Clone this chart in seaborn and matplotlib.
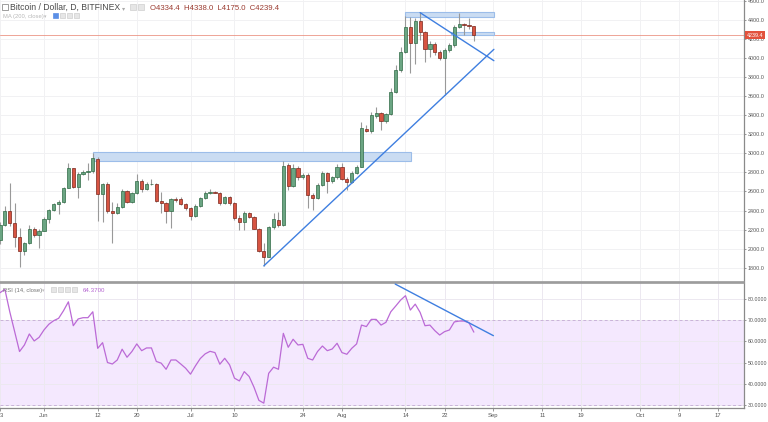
import numpy as np
import pandas as pd
import matplotlib
matplotlib.use("Agg")
import matplotlib.pyplot as plt
import matplotlib.dates as mdates
import matplotlib.transforms as mtrans
from matplotlib.patches import Rectangle
import seaborn as sns

# ---------------- data (daily BTC/USD, Bitfinex, from 2017-05-23) ----------------
start_date = "2017-05-23"
opens = [2092, 2249, 2396, 2267, 2127, 1980, 2057, 2204, 2144, 2190,
         2309, 2407, 2466, 2494, 2634, 2844, 2651, 2784, 2809, 2812,
         2938, 2571, 2679, 2396, 2379, 2435, 2610, 2494, 2581, 2714,
         2623, 2676, 2676, 2505, 2484, 2396, 2519, 2519, 2470, 2424,
         2347, 2449, 2529, 2581, 2599, 2588, 2477, 2540, 2477, 2319,
         2284, 2372, 2330, 2204, 1980, 1917, 2225, 2302, 2249, 2879,
         2658, 2844, 2749, 2774, 2564, 2529, 2669, 2791, 2714, 2749,
         2854, 2728, 2704, 2791, 2861, 3256, 3235, 3396, 3420, 3344,
         3410, 3648, 3875, 4068, 4330, 4155, 4393, 4270, 4092, 4148,
         4068, 3998, 4085, 4138, 4330, 4358, 4348, 4334.4]
highs = [2280, 2449, 2693, 2484, 2214, 2074, 2249, 2225, 2204, 2330,
         2414, 2484, 2512, 2651, 2903, 2851, 2809, 2826, 2896, 3008,
         2966, 2693, 2704, 2494, 2477, 2623, 2617, 2599, 2784, 2728,
         2704, 2728, 2693, 2599, 2494, 2529, 2547, 2540, 2484, 2442,
         2470, 2547, 2610, 2623, 2610, 2599, 2554, 2554, 2494, 2354,
         2400, 2389, 2344, 2214, 2057, 2239, 2379, 2389, 2924, 2903,
         2889, 2868, 2798, 2791, 2581, 2686, 2819, 2809, 2763, 2889,
         2903, 2749, 2819, 2879, 3333, 3298, 3438, 3484, 3438, 3421,
         3683, 3928, 4120, 4442, 4435, 4417, 4487, 4288, 4183, 4172,
         4085, 4103, 4162, 4347, 4470, 4372, 4417, 4338.0]
lows = [2050, 2240, 2240, 2015, 1812, 1935, 2050, 2127, 2004, 2190,
        2274, 2400, 2365, 2484, 2634, 2634, 2529, 2777, 2721, 2791,
        2291, 2284, 2379, 2057, 2365, 2424, 2477, 2484, 2575, 2599,
        2617, 2665, 2494, 2372, 2267, 2214, 2494, 2459, 2407, 2302,
        2337, 2442, 2519, 2575, 2581, 2459, 2470, 2459, 2302, 2197,
        2197, 2319, 2204, 1970, 1819, 1910, 2204, 2225, 2239, 2617,
        2651, 2721, 2728, 2424, 2407, 2519, 2658, 2588, 2693, 2728,
        2721, 2617, 2693, 2784, 2854, 3228, 3218, 3368, 3246, 3316,
        3403, 3631, 3858, 4050, 3847, 3938, 4190, 3963, 4015, 4033,
        3980, 3613, 4068, 4120, 4313, 4243, 4302, 4175.0]
closes = [2249, 2400, 2267, 2127, 1980, 2057, 2204, 2144, 2190, 2309,
          2407, 2466, 2494, 2634, 2844, 2651, 2784, 2809, 2812, 2949,
          2571, 2679, 2396, 2379, 2435, 2610, 2494, 2581, 2714, 2623,
          2676, 2680, 2505, 2484, 2396, 2519, 2515, 2470, 2424, 2347,
          2449, 2529, 2581, 2599, 2588, 2477, 2540, 2477, 2319, 2284,
          2372, 2330, 2204, 1980, 1917, 2225, 2309, 2249, 2868, 2658,
          2844, 2749, 2774, 2564, 2529, 2669, 2791, 2714, 2749, 2854,
          2728, 2704, 2791, 2861, 3263, 3235, 3403, 3420, 3344, 3410,
          3648, 3875, 4068, 4330, 4155, 4393, 4270, 4092, 4148, 4068,
          3998, 4085, 4138, 4330, 4358, 4348, 4340, 4239.4]
rsi = [83.0, 84.6, 74.0, 64.6, 55.2, 58.3, 63.5, 60.2, 61.9, 65.4,
       68.1, 69.8, 70.9, 74.5, 78.7, 67.4, 70.6, 71.2, 71.2, 74.0,
       56.7, 59.4, 50.0, 49.3, 51.2, 56.3, 52.5, 55.2, 58.8, 55.6,
       56.9, 56.9, 50.5, 49.7, 46.8, 51.2, 51.2, 49.3, 47.3, 44.5,
       48.4, 51.9, 54.1, 55.3, 54.7, 49.2, 52.0, 48.9, 42.6, 41.3,
       45.7, 43.4, 38.3, 32.1, 30.8, 44.9, 47.8, 46.8, 63.8, 57.2,
       61.0, 58.3, 58.6, 52.0, 51.2, 55.2, 57.8, 55.6, 56.4, 59.1,
       54.7, 53.9, 56.7, 58.8, 67.7, 67.0, 70.4, 70.4, 67.7, 69.0,
       74.0, 76.7, 79.5, 81.6, 74.8, 77.6, 73.7, 67.4, 67.7, 65.1,
       63.0, 64.6, 65.4, 69.2, 69.6, 69.6, 68.8, 64.37]

price_ticks = [1800, 2000, 2200, 2400, 2600, 2800, 3000, 3200, 3400,
               3600, 3800, 4000, 4200, 4400, 4600]
rsi_ticks = [30, 40, 50, 60, 70, 80]
x_tick_dates = ["2017-05-23", "2017-06-01", "2017-06-12", "2017-06-20",
                "2017-07-01", "2017-07-10", "2017-07-24", "2017-08-01",
                "2017-08-14", "2017-08-22", "2017-09-01", "2017-09-11",
                "2017-09-19", "2017-10-01", "2017-10-09", "2017-10-17"]
x_tick_labels = ["3", "Jun", "12", "20", "Jul", "10", "24", "Aug",
                 "14", "22", "Sep", "11", "19", "Oct", "9", "17"]

last_price = 4239.4
last_rsi = 64.37

# drawings: (day offset from start, value)
support_line = [(54.0, 1819), (101.1, 4092)]
resist_line = [(86.0, 4477), (101.1, 3973)]
rsi_line = [(80.9, 87.1), (101.0, 62.7)]
# zones: (day start, day end, price low, price high)
zones = [(18.95, 84.1, 2923, 3011),
         (82.9, 101.1, 4435, 4487),
         (92.3, 101.1, 4243, 4277)]

# ---------------- style ----------------
sns.set_theme(style="white")
plt.rcParams["font.family"] = ["Liberation Sans", "DejaVu Sans"]

W, H = 768, 422
fig = plt.figure(figsize=(W / 100, H / 100), dpi=100)
fig.patch.set_facecolor("white")

ax = fig.add_axes([0, (H - 282) / H, 744 / W, 282 / H])
ax2 = fig.add_axes([0, (H - 408) / H, 744 / W, 125 / H], sharex=ax)

dates = pd.date_range(start_date, periods=len(closes), freq="D")
base = mdates.date2num(pd.Timestamp(start_date))
df = pd.DataFrame({"date": dates, "open": opens, "high": highs,
                   "low": lows, "close": closes, "rsi": rsi})

up = df["close"] >= df["open"]
body_low = np.minimum(df["open"], df["close"])
body_h = np.maximum(np.abs(df["close"] - df["open"]), 4)

# wicks
ax.vlines(df["date"], df["low"], df["high"], color="#999999", lw=0.8, zorder=2)
# bodies
ax.bar(df["date"][up], body_h[up], bottom=body_low[up], width=0.66,
       color="#6ba583", edgecolor="#2f6a45", linewidth=0.5, zorder=3)
ax.bar(df["date"][~up], body_h[~up], bottom=body_low[~up], width=0.66,
       color="#d75442", edgecolor="#7a261b", linewidth=0.5, zorder=3)

# zones
for d0, d1, p0, p1 in zones:
    ax.add_patch(Rectangle((base + d0, p0), d1 - d0, p1 - p0,
                           facecolor="#cadcf2", edgecolor="#9cbde9",
                           linewidth=0.8, zorder=1.5))
# trend lines
for line in (support_line, resist_line):
    ax.plot([base + line[0][0], base + line[1][0]],
            [line[0][1], line[1][1]], color="#3f7fe0", lw=1.0, zorder=4)

# last price line
ax.axhline(last_price, color="#e98574", lw=0.7, alpha=0.75, zorder=1)

tick_nums = [mdates.date2num(pd.Timestamp(d)) for d in x_tick_dates]
xmin = base + 0.14
xmax = base + 152.3

ax.set_xlim(xmin, xmax)
ax.set_ylim(1650, 4610)
ax.set_yticks(price_ticks)
ax.set_yticklabels([f"{t:.1f}" for t in price_ticks])
ax.yaxis.tick_right()
ax.set_xticks(tick_nums)
ax.tick_params(axis="x", length=0, labelbottom=False)
ax.tick_params(axis="y", right=True, length=1.5, width=0.6, color="#888888",
               labelsize=3.9, labelcolor="#555555", pad=1.0)
ax.grid(True, color="#f1f1f3", lw=0.7)
ax.set_axisbelow(True)
for s in ("left", "top"):
    ax.spines[s].set_visible(False)
ax.spines["right"].set_color("#8a8a8a")
ax.spines["right"].set_linewidth(0.9)
ax.spines["bottom"].set_color("#9a9a9a")
ax.spines["bottom"].set_linewidth(1.2)

# price label on axis
trans = mtrans.blended_transform_factory(ax.transAxes, ax.transData)
ax.text(1.004, last_price, f"{last_price:.1f}", transform=trans, ha="left",
        va="center", color="white", fontsize=3.9, zorder=10, clip_on=False,
        bbox=dict(boxstyle="square,pad=0.3", fc="#e2523d", ec="none"))

# ---------------- RSI pane ----------------
ax2.axhspan(30, 70, color="#f4e8fe", zorder=0, lw=0)
ax2.axhline(70, color="#c9b3d9", lw=0.7, ls=(0, (3, 2.5)), zorder=1)
ax2.axhline(30, color="#c9b3d9", lw=0.7, ls=(0, (3, 2.5)), zorder=1)
sns.lineplot(data=df, x="date", y="rsi", ax=ax2, color="#bb6ad6",
             lw=0.9, zorder=3)
ax2.plot([base + rsi_line[0][0], base + rsi_line[1][0]],
         [rsi_line[0][1], rsi_line[1][1]], color="#3f7fe0", lw=1.0, zorder=4)
ax2.set_xlim(xmin, xmax)
ax2.set_ylim(28.5, 87.6)
ax2.set_yticks(rsi_ticks)
ax2.set_yticklabels([f"{t:.4f}" for t in rsi_ticks])
ax2.yaxis.tick_right()
ax2.set_xlabel("")
ax2.set_ylabel("")
ax2.set_xticks(tick_nums)
ax2.set_xticklabels(x_tick_labels)
ax2.get_xticklabels()[0].set_horizontalalignment("left")
ax2.tick_params(axis="x", bottom=True, length=2, width=0.6, color="#888888",
                labelsize=4.2, labelcolor="#555555", pad=1.5)
ax2.tick_params(axis="y", right=True, length=1.5, width=0.6, color="#888888",
                labelsize=3.8, labelcolor="#555555", pad=1.0)
ax2.grid(True, color="#ece8f0", lw=0.7)
ax2.set_axisbelow(True)
ax2.spines["left"].set_visible(False)
ax2.spines["top"].set_color("#9a9a9a")
ax2.spines["top"].set_linewidth(1.2)
for s in ("right", "bottom"):
    ax2.spines[s].set_color("#8a8a8a")
    ax2.spines[s].set_linewidth(0.9)

# ---------------- header texts ----------------
def fx(px):
    return px / W

def fy(py):
    return 1 - py / H

# small icon boxes
def icon(x, y, w, h, fc="#e6e6e6", ec="#cfcfcf"):
    fig.patches.append(Rectangle((fx(x), fy(y + h)), w / W, h / H,
                                 transform=fig.transFigure, facecolor=fc,
                                 edgecolor=ec, linewidth=0.5))

icon(2, 4, 6, 6, fc="white", ec="#777777")
fig.text(fx(10), fy(10), "Bitcoin / Dollar, D, BITFINEX", fontsize=6.2,
         color="#4a4a4a", va="baseline", ha="left")
fig.text(fx(122), fy(10), "▾", fontsize=4.5, color="#aaaaaa",
         va="baseline", ha="left", family=["DejaVu Sans"])
icon(130, 4, 6, 6)
icon(138, 4, 6, 6)
fig.text(fx(150), fy(10),
         f"O{opens[-1]:.1f}  H{highs[-1]:.1f}  L{lows[-1]:.1f}  C{closes[-1]:.1f}",
         fontsize=5.6, color="#9b3b30", va="baseline", ha="left")

fig.text(fx(3), fy(18), "MA (200, close)", fontsize=4.2, color="#b8b8b8",
         va="baseline", ha="left")
fig.text(fx(44), fy(18), "▾", fontsize=3.5, color="#bbbbbb",
         va="baseline", ha="left", family=["DejaVu Sans"])
icon(53, 13, 5, 5, fc="#5b8fe6", ec="#5b8fe6")
icon(60, 13, 5, 5)
icon(67, 13, 5, 5)
icon(74, 13, 5, 5)

fig.text(fx(3), fy(292), "RSI (14, close)", fontsize=4.2, color="#777777",
         va="baseline", ha="left")
fig.text(fx(42), fy(292), "▾", fontsize=3.5, color="#bbbbbb",
         va="baseline", ha="left", family=["DejaVu Sans"])
icon(51, 287, 5, 5)
icon(58, 287, 5, 5)
icon(65, 287, 5, 5)
icon(72, 287, 5, 5)
fig.text(fx(83), fy(292), f"{last_rsi:.4f}", fontsize=4.4, color="#b565d1",
         va="baseline", ha="left")

fig.savefig("out.png", dpi=100, facecolor="white")
